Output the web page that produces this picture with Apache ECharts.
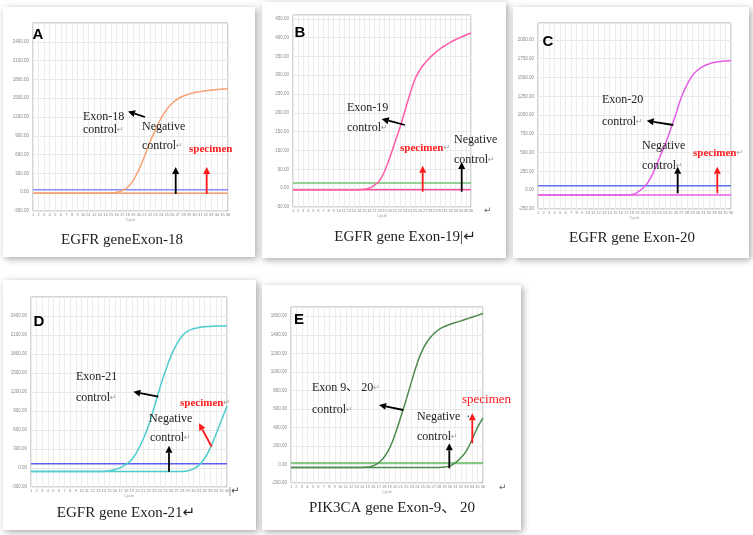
<!DOCTYPE html>
<html>
<head>
<meta charset="utf-8">
<script src="https://cdn.jsdelivr.net/npm/echarts@6/dist/echarts.min.js"></script>
<style>
  html, body { margin: 0; padding: 0; background: #fff; }
  #chart { width: 753px; height: 535px; }
</style>
</head>
<body>
<div id="chart"></div>
<script>
// cycle numbers on every panel
const cycles = [1, 2, 3, 4, 5, 6, 7, 8, 9, 10, 11, 12, 13, 14, 15, 16, 17, 18,
  19, 20, 21, 22, 23, 24, 25, 26, 27, 28, 29, 30, 31, 32, 33, 34, 35, 36];

// A - EGFR exon 18
const exon18Control = [-15, -15, -15, -15, -15, -15, -15, -15, -15, -15, -15, -15, -15, -15,
  -12, 0, 25, 80, 190, 360, 570, 800, 1000, 1180, 1320, 1420, 1490, 1535, 1565, 1590,
  1605, 1620, 1630, 1638, 1645, 1650];
const exon18Negative = -15;
const exon18Threshold = 40;

// B - EGFR exon 19
const exon19Control = [-4, -4, -4, -4, -4, -4, -4, -4, -4, -4, -4, -4, -4, -4,
  -3, 0, 8, 20, 45, 80, 120, 160, 205, 250, 290, 315, 333, 348, 360, 371,
  380, 388, 395, 401, 407, 412];
const exon19Negative = -4;
const exon19Threshold = 14;

// C - EGFR exon 20
const exon20Control = [-65, -65, -65, -65, -65, -65, -65, -65, -65, -65, -65, -65, -65, -65,
  -65, -65, -65, -58, -30, 25, 112, 250, 425, 600, 800, 1012, 1237, 1400, 1525, 1600,
  1650, 1680, 1700, 1712, 1720, 1725];
const exon20Negative = -65;
const exon20Threshold = 60;

// D - EGFR exon 21
const exon21Control = [-54, -54, -54, -54, -54, -54, -54, -54, -54, -54, -54, -54, -54, -54,
  -42, -24, 6, 60, 135, 270, 450, 672, 960, 1260, 1530, 1770, 1950, 2085, 2160, 2199,
  2217, 2229, 2235, 2241, 2244, 2247];
const exon21Specimen = [-54, -54, -54, -54, -54, -54, -54, -54, -54, -54, -54, -54, -54, -54,
  -54, -54, -54, -54, -54, -54, -54, -54, -54, -54, -54, -54, -54, -54, -45, -15,
  45, 150, 315, 525, 750, 975];
const exon21Threshold = 69;

// E - PIK3CA exon 9, 20
const pik3caControl = [-32, -32, -32, -32, -32, -32, -32, -32, -32, -32, -32, -32, -32, -32,
  -28, -14, 20, 80, 180, 330, 510, 700, 900, 1090, 1240, 1340, 1410, 1458, 1490, 1514,
  1532, 1550, 1570, 1590, 1610, 1630];
const pik3caSpecimen = [-32, -32, -32, -32, -32, -32, -32, -32, -32, -32, -32, -32, -32, -32,
  -32, -32, -32, -32, -32, -32, -32, -32, -32, -32, -32, -32, -32, -32, -28, -15,
  20, 75, 150, 270, 400, 502];
const pik3caThreshold = 16;

// panel y scales: [min, interval, max]
const yScales = [
  [-300, 300, 2700],
  [-50, 50, 460],
  [-250, 250, 2225],
  [-300, 300, 2700],
  [-200, 200, 1700]
];

const captions = ['EGFR geneExon-18', 'EGFR gene Exon-19|\u21b5', 'EGFR gene Exon-20',
  'EGFR gene Exon-21\u21b5', 'PIK3CA gene Exon-9\u3001 20'];

const chart = echarts.init(document.getElementById('chart'));

const grids = [
  { left: 33, top: 23, width: 195, height: 188 },
  { left: 293, top: 15, width: 178, height: 192 },
  { left: 538, top: 23, width: 193, height: 186 },
  { left: 31, top: 297, width: 196, height: 190 },
  { left: 291, top: 307, width: 192, height: 176 }
];

const serif = '"Liberation Serif", "Noto Sans CJK SC", "DejaVu Sans", serif';

function pts(vals) { return cycles.map((c, i) => [c, vals[i]]); }
function flat(v) { return [[cycles[0], v], [cycles[cycles.length - 1], v]]; }

function curve(idx, data, color) {
  return {
    type: 'line', xAxisIndex: idx, yAxisIndex: idx, data: data,
    smooth: true, showSymbol: false, silent: true,
    lineStyle: { color: color, width: 1.5 }, itemStyle: { color: color }
  };
}

const series = [
  curve(0, flat(exon18Threshold), '#8a8aff'),
  curve(0, flat(exon18Negative), '#f7a072'),
  curve(0, pts(exon18Control), '#f7a072'),
  curve(1, flat(exon19Threshold), '#72c072'),
  curve(1, flat(exon19Negative), '#ff4fa3'),
  curve(1, pts(exon19Control), '#ff5aa8'),
  curve(2, flat(exon20Threshold), '#6070f0'),
  curve(2, flat(exon20Negative), '#e65ce6'),
  curve(2, pts(exon20Control), '#e65ce6'),
  curve(3, flat(exon21Threshold), '#6060f0'),
  curve(3, pts(exon21Control), '#4ccccc'),
  curve(3, pts(exon21Specimen), '#4ccccc'),
  curve(4, flat(pik3caThreshold), '#5cba5c'),
  curve(4, pts(pik3caControl), '#4e8a4e'),
  curve(4, pts(pik3caSpecimen), '#4e8a4e')
];

const xAxes = grids.map((g, i) => ({
  type: 'value', gridIndex: i, min: 1, max: 36, interval: 1,
  name: 'Cycle', nameLocation: 'middle', nameGap: 7,
  nameTextStyle: { fontSize: 4, color: '#999' },
  axisLine: { show: false }, axisTick: { show: false },
  axisLabel: { fontSize: 4, color: '#888', margin: 2 },
  splitLine: { lineStyle: { color: '#ececec', width: 1 } }
}));

const yAxes = yScales.map((s, i) => ({
  type: 'value', gridIndex: i, min: s[0], interval: s[1], max: s[2],
  axisLine: { show: false }, axisTick: { show: false },
  axisLabel: { fontSize: 4.5, color: '#888', margin: 4, showMaxLabel: false,
    formatter: v => v.toFixed(2) },
  splitLine: { lineStyle: { color: '#e8e8e8', width: 1 } }
}));

// white cards with soft shadow
const cards = [
  [3, 7, 252, 250], [262, 2, 244, 256], [513, 7, 236, 251],
  [3, 280, 253, 250], [262, 285, 259, 245]
].map(c => ({
  type: 'rect', z: -10, silent: true,
  shape: { x: c[0], y: c[1], width: c[2], height: c[3] },
  style: { fill: '#fff', shadowBlur: 7, shadowColor: 'rgba(0,0,0,0.35)', shadowOffsetX: 2, shadowOffsetY: 2 }
}));

function arrow(x1, y1, x2, y2, color) {
  const a = Math.atan2(y2 - y1, x2 - x1);
  const L = 7, W = 3.5;
  const bx = x2 - L * Math.cos(a), by = y2 - L * Math.sin(a);
  const nx = -Math.sin(a) * W, ny = Math.cos(a) * W;
  return [
    { type: 'line', z: 50, silent: true, shape: { x1: x1, y1: y1, x2: bx, y2: by },
      style: { stroke: color, lineWidth: 1.8 } },
    { type: 'polygon', z: 50, silent: true,
      shape: { points: [[x2, y2], [bx + nx, by + ny], [bx - nx, by - ny]] },
      style: { fill: color } }
  ];
}

function label(text, x, y, opts) {
  opts = opts || {};
  const color = opts.color || '#222';
  const size = opts.size || 12;
  const weight = opts.bold ? 'bold' : 'normal';
  return {
    type: 'text', z: 60, silent: true,
    style: {
      text: text, x: x, y: y,
      fill: color, fontSize: size, fontFamily: opts.family || serif, fontWeight: weight,
      align: opts.align || 'left', verticalAlign: 'middle',
      rich: {
        t: { fill: color, fontSize: size, fontFamily: serif, fontWeight: weight },
        r: { fill: '#999', fontSize: Math.round(size * 0.7), fontFamily: '"DejaVu Sans", sans-serif' }
      }
    }
  };
}

// word paragraph mark after the text, smaller and grey
function para(text, x, y, opts) {
  return label('{t|' + text + '}{r|\u21b5}', x, y, opts);
}

const panelLetters = [['A', 38, 35], ['B', 300, 33], ['C', 548, 42], ['D', 39, 322], ['E', 299, 320]]
  .map(p => label(p[0], p[1], p[2], { size: 15, bold: true, align: 'center',
    family: '"Liberation Sans", Arial, sans-serif', color: '#000' }));

const captionPos = [[122, 240], [405, 237], [632, 238], [126, 513], [392, 508]];
const captionEls = captions.map((t, i) => label(t, captionPos[i][0], captionPos[i][1], { size: 15, align: 'center', color: '#222' }));

const red = '#ff1a1a';
const notes = [].concat(
  // A
  label('Exon-18', 83, 117), para('control', 83, 130),
  arrow(145, 117, 128, 111.5, '#000'),
  label('Negative', 142, 127), para('control', 142, 146),
  label('specimen', 189, 149, { color: red, bold: true, size: 11 }),
  arrow(175.7, 194, 175.7, 167, '#000'),
  arrow(206.7, 194, 206.7, 167, red),
  // B
  label('Exon-19', 347, 108), para('control', 347, 128),
  arrow(405, 125, 381.7, 119, '#000'),
  para('specimen', 400, 148, { color: red, bold: true, size: 11 }),
  label('Negative', 454, 140), para('control', 454, 160),
  arrow(422.7, 191.7, 422.7, 165.7, red),
  arrow(461.7, 191.7, 461.7, 162, '#000'),
  label('\u21b5', 484, 211, { size: 9, color: '#666' }),
  // C
  label('Exon-20', 602, 100), para('control', 602, 122),
  arrow(673.3, 125, 646.7, 120.7, '#000'),
  label('Negative', 642, 146), para('control', 642, 166),
  arrow(677.7, 193.3, 677.7, 166.7, '#000'),
  arrow(717.3, 193.3, 717.3, 166.7, red),
  para('specimen', 693, 153.3, { color: red, bold: true, size: 11 }),
  // D
  label('Exon-21', 76, 377), para('control', 76, 398),
  arrow(158.3, 396.7, 133.3, 391.7, '#000'),
  para('specimen', 180, 403, { color: red, bold: true, size: 11 }),
  arrow(211.7, 446.7, 199, 423.3, red),
  label('Negative', 149, 419), para('control', 150, 438),
  arrow(169, 471.7, 169, 445.7, '#000'),
  label('|\u21b5', 229, 491, { size: 10, color: '#444' }),
  // E
  para('Exon 9\u3001 20', 312, 388), para('control', 312, 410),
  arrow(403.3, 410, 379, 405, '#000'),
  label('Negative  \u00b7', 417, 417), para('control', 417, 437),
  arrow(449.3, 468.3, 449.3, 443.3, '#000'),
  arrow(472.3, 443.3, 472.3, 413.3, red),
  label('specimen', 462, 400, { color: red, size: 13 }),
  label('\u21b5', 499, 488, { size: 9, color: '#666' })
);

chart.setOption({
  animation: false,
  backgroundColor: '#fff',
  grid: grids.map(g => Object.assign({ show: true, borderColor: '#a8a8a8', borderWidth: 1,
    backgroundColor: 'transparent' }, g)),
  xAxis: xAxes,
  yAxis: yAxes,
  series: series,
  graphic: { elements: cards.concat(panelLetters, captionEls, notes) }
});
</script>
</body>
</html>
